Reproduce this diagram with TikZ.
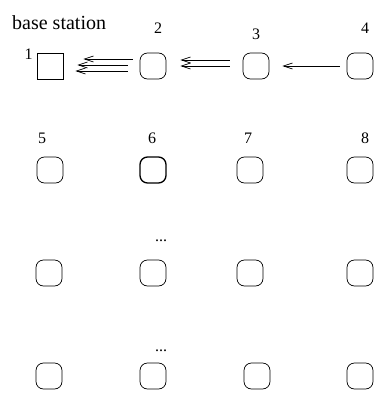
\documentclass[tikz,border=0pt]{standalone}
\usepackage{fontspec}
\setmainfont{Liberation Serif}
\usetikzlibrary{arrows.meta}
\tikzset{
  sensor/.style={draw, rounded corners=7.5pt, minimum size=26pt, inner sep=0pt, line width=0.7pt},
  station/.style={draw, minimum size=26pt, inner sep=0pt, line width=0.7pt},
  tag/.style={font=\fontsize{16}{19}\selectfont, inner sep=0pt, anchor=base},
  msg/.style={-{Straight Barb[length=9pt,width=6pt]}, line width=0.7pt}
}
\begin{document}
\begin{tikzpicture}[x=1pt,y=-1pt]
  \useasboundingbox (0,0) rectangle (377,399);
  % Base station and sensor grid
  \node[station] (n1) at (50,66) {};
  \foreach \x/\y/\id in {153/66/2, 256/66/3, 360/66/4,
                         50/170/5, 250/170/7, 360/170/8,
                         49/273/9, 153/273/10, 250/273/11, 360/273/12,
                         49/376/13, 153/376/14, 257/376/15, 360/376/16} {
    \node[sensor] (n\id) at (\x,\y) {};
  }
  \node[sensor, line width=1.3pt] (n6) at (153,170) {};

  % Labels (placed at their baselines)
  \node[tag, anchor=base west, font=\fontsize{20}{24}\selectfont] (base) at (12,29) {base station};
  \foreach \x/\y/\id in {28.5/59/1, 158/33/2, 256/39/3, 365/33/4,
                         42/143/5, 152/143/6, 248/143/7, 365/143/8} {
    \node[tag] (l\id) at (\x,\y) {\id};
  }
  \node[tag] (dots1) at (161,241) {...};
  \node[tag] (dots2) at (161,351) {...};

  % Messages towards the base station
  \draw[msg] ([shift={(-7,-7)}]n2.west) -- ([shift={(20,-7)}]n1.east);
  \draw[msg] ([shift={(-12,-1)}]n2.west) -- ([shift={(14,-1)}]n1.east);
  \draw[msg] ([shift={(-12,5)}]n2.west) -- ([shift={(12,5)}]n1.east);
  \draw[msg] ([shift={(-13,-6)}]n3.west) -- ([shift={(14,-6)}]n2.east);
  \draw[msg] ([shift={(-13,0)}]n3.west) -- ([shift={(14,0)}]n2.east);
  \draw[msg] ([shift={(-7,0)}]n4.west) -- ([shift={(13,0)}]n3.east);
\end{tikzpicture}
\end{document}
